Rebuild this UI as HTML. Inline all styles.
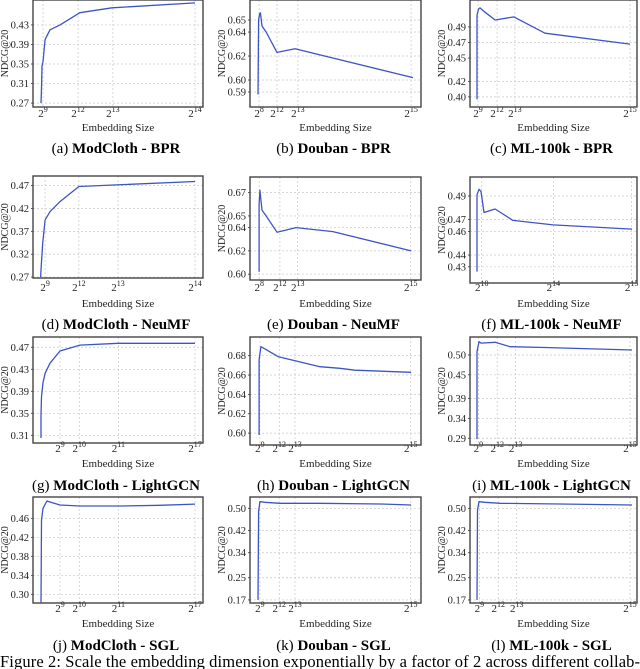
<!DOCTYPE html>
<html><head><meta charset="utf-8">
<style>
html,body{margin:0;padding:0;background:#fff;}
body{width:640px;height:669px;overflow:hidden;position:relative;font-family:"Liberation Serif",serif;}
svg{position:absolute;left:0;top:0;font-family:"Liberation Serif",serif;}
svg text{font-family:"Liberation Serif",serif;}
</style></head>
<body>
<svg id="fig" width="640" height="669" viewBox="0 0 640 669" font-family="Liberation Serif, serif"></svg>
<script>
// ---- data (x as % of axis width, y as NDCG@20) ----
const aX=[4.7,5,5.3,5.9,7.1,10,15.9,27.6,46.5,95.3];
const aY=[0.27,0.30,0.345,0.355,0.40,0.42,0.43,0.455,0.465,0.475];
const bX=[4.7,5,5.6,6.1,7,9.4,15.8,26.3,95.3];
const bY=[0.588,0.65,0.655,0.656,0.645,0.64,0.623,0.626,0.602];
const cX=[4.2,4.2,5.1,6,9,15,26.3,44.9,95.8];
const cY=[0.397,0.505,0.513,0.5145,0.509,0.499,0.503,0.482,0.468];
const dX=[4.5,4.9,5.7,7.1,10,15.9,27,95.3];
const dY=[0.27,0.296,0.344,0.395,0.413,0.435,0.468,0.479];
const eX=[5.3,5.3,5.8,7,9.4,15.8,26.9,48.5,94.2];
const eY=[0.602,0.66,0.672,0.655,0.65,0.636,0.64,0.6365,0.62];
const fX=[4.2,4.2,5.4,6.6,8.4,15,25.7,49.7,97];
const fY=[0.426,0.491,0.4957,0.4937,0.476,0.479,0.4693,0.4655,0.462];
const gX=[4.7,4.7,5,5.9,7.1,10,15.9,27.6,50,95.3];
const gY=[0.305,0.347,0.38,0.4056,0.4227,0.441,0.4633,0.474,0.4773,0.4773];
const hX=[5.3,5.3,6.4,8.8,16.4,40.9,52.6,61.4,94.2];
const hY=[0.598,0.6756,0.6893,0.687,0.679,0.6686,0.667,0.665,0.6628];
const iX=[4.2,4.2,5.4,6.6,15,24,44.9,97];
const iY=[0.288,0.508,0.5335,0.530,0.532,0.521,0.519,0.5126];
const jX=[4.7,5,5.9,8.2,10,15.9,27.6,51.2,74.7,95.3];
const jY=[0.282,0.456,0.481,0.4964,0.4943,0.488,0.486,0.486,0.4874,0.490];
const kX=[4.7,5,5.8,8.8,17.5,40.9,76,94.2];
const kY=[0.17,0.488,0.5237,0.5216,0.518,0.518,0.5155,0.512];
const lX=[4.2,4.5,5.4,9,18,53.9,97];
const lY=[0.17,0.494,0.5237,0.5216,0.518,0.5155,0.512];
// tick values / labels
const aYT=[0.27,0.31,0.35,0.39,0.43], aXT=[5.9,26.5,47,95.3], aXL=["9","12","13","14"];
const bYT=[0.59,0.60,0.62,0.64,0.65], bXT=[5.3,15.8,28,94.2], bXL=["8","12","13","15"];
const cYT=[0.40,0.42,0.45,0.47,0.49], cXT=[4.8,16.2,26.9,95.8], cXL=["9","12","13","15"];
const dYT=[0.27,0.32,0.37,0.42,0.47], dXT=[7.1,27,50,95.3], dXL=["9","12","13","14"];
const eYT=[0.60,0.62,0.64,0.65,0.67], eXT=[5.4,17.5,27.9,94], eXL=["8","12","13","15"];
const fYT=[0.43,0.44,0.46,0.47,0.49], fXT=[7,49.9,96.8], fXL=["10","14","15"];
const gYT=[0.31,0.35,0.39,0.43,0.47], gXT=[15.9,27.2,50.2,95.3], gXL=["9","10","11","17"];
const hYT=[0.60,0.62,0.64,0.66,0.68], hXT=[5.8,17.1,26.3,94], hXL=["9","12","13","15"];
const iYT=[0.29,0.34,0.39,0.45,0.50], iXT=[5,16.3,27.3,95.8], iXL=["9","12","13","15"];
const jYT=[0.30,0.34,0.38,0.42,0.46], jXT=[15.9,27.2,50.2,95.3], jXL=["9","10","11","17"];
const kYT=[0.17,0.25,0.34,0.42,0.50], kXT=[5.8,17.1,26.3,94], kXL=["9","12","13","15"];
const lYT=[0.17,0.25,0.34,0.42,0.50], lXT=[5.6,16.9,28,95.8], lXL=["9","12","13","15"];

const panels=[
 {id:'a',box:[33,0,203,107],yd:[0.262,0.481],xs:aX,ys:aY,yt:aYT,xt:aXT,xl:aXL,ds:'ModCloth',m:'BPR',row:0},
 {id:'b',box:[250,0,421,107],yd:[0.5775,0.6667],xs:bX,ys:bY,yt:bYT,xt:bXT,xl:bXL,ds:'Douban',m:'BPR',row:0},
 {id:'c',box:[470,0,637,107],yd:[0.387,0.5247],xs:cX,ys:cY,yt:cYT,xt:cXT,xl:cXL,ds:'ML-100k',m:'BPR',row:0},
 {id:'d',box:[33,176,203,278],yd:[0.268,0.491],xs:dX,ys:dY,yt:dYT,xt:dXT,xl:dXL,ds:'ModCloth',m:'NeuMF',row:1},
 {id:'e',box:[250,177,421,280],yd:[0.595,0.6834],xs:eX,ys:eY,yt:eYT,xt:eXT,xl:eXL,ds:'Douban',m:'NeuMF',row:1},
 {id:'f',box:[470,177,637,283],yd:[0.4163,0.5061],xs:fX,ys:fY,yt:fYT,xt:fXT,xl:fXL,ds:'ML-100k',m:'NeuMF',row:1},
 {id:'g',box:[33,337,203,443],yd:[0.296,0.4887],xs:gX,ys:gY,yt:gYT,xt:gXT,xl:gXL,ds:'ModCloth',m:'LightGCN',row:2},
 {id:'h',box:[250,337,421,445],yd:[0.5877,0.6993],xs:hX,ys:hY,yt:hYT,xt:hXT,xl:hXL,ds:'Douban',m:'LightGCN',row:2},
 {id:'i',box:[470,337,637,445],yd:[0.273,0.5454],xs:iX,ys:iY,yt:iYT,xt:iXT,xl:iXL,ds:'ML-100k',m:'LightGCN',row:2},
 {id:'j',box:[33,497,203,603],yd:[0.2817,0.5049],xs:jX,ys:jY,yt:jYT,xt:jXT,xl:jXL,ds:'ModCloth',m:'SGL',row:3},
 {id:'k',box:[250,497,421,603],yd:[0.159,0.5407],xs:kX,ys:kY,yt:kYT,xt:kXT,xl:kXL,ds:'Douban',m:'SGL',row:3},
 {id:'l',box:[470,497,637,603],yd:[0.159,0.5407],xs:lX,ys:lY,yt:lYT,xt:lXT,xl:lXL,ds:'ML-100k',m:'SGL',row:3}
];
const tickY=[113,287,448,608], xlabY=[127,303,463,623], capY=[148,324,485,645];

const NS='http://www.w3.org/2000/svg';
const svg=document.getElementById('fig');
const FF='"Liberation Serif", serif';
function mk(tag,attrs,parent){const e=document.createElementNS(NS,tag);for(const k in attrs)e.setAttribute(k,attrs[k]);if(tag==='text')e.style.fontFamily=FF;(parent||svg).appendChild(e);return e;}

panels.forEach(p=>{
  const [x0,y0,x1,y1]=p.box;
  const sx=v=>x0+(x1-x0)*v/100;
  const sy=v=>y1-(y1-y0)*(v-p.yd[0])/(p.yd[1]-p.yd[0]);
  const g=mk('g',{});
  
  
  p.yt.forEach(v=>{
    const l=mk('line',{x1:x0,x2:x1,y1:sy(v),y2:sy(v),stroke:'#c8c8c8','stroke-width':0.7,'stroke-dasharray':'2,2'},g);
    
    
    const t=mk('text',{x:x0-4,y:sy(v)+3.5,'text-anchor':'end','font-size':'10.5',fill:'#222'},g);
    
    
    t.textContent=v.toFixed(2);
    mk('line',{x1:x0-2,x2:x0,y1:sy(v),y2:sy(v),stroke:'#333','stroke-width':0.8},g);
  });
  p.xt.forEach((v,i)=>{
    const l=mk('line',{x1:sx(v),x2:sx(v),y1:y0,y2:y1,stroke:'#c8c8c8','stroke-width':0.7,'stroke-dasharray':'2,2'},g);
    
    
    const t=mk('text',{x:sx(v),y:tickY[p.row]+4,'text-anchor':'middle','font-size':'11',fill:'#222'},g);
    
    
    t.appendChild(document.createTextNode('2'));
    const s=mk('tspan',{dy:-5,'font-size':'8'},t);
    s.textContent=p.xl[i];
  });
  const r=mk('rect',{x:x0,y:y0,width:x1-x0,height:y1-y0,fill:'none',stroke:'#444','stroke-width':1.4},g);
  
  
  const d=p.xs.map((v,i)=>(i?'L':'M')+sx(v).toFixed(1)+','+sy(p.ys[i]).toFixed(1)).join(' ');
  const path=mk('path',{d:d,fill:'none',stroke:'#3d55c4','stroke-width':1.3,'stroke-linejoin':'round'},g);
  
  
  const yl=mk('text',{transform:'translate('+(x0-25)+','+((y0+y1)/2)+') rotate(-90)','text-anchor':'middle','font-size':'10',fill:'#222'},g);
  
  
  yl.textContent='NDCG@20';
  const xl=mk('text',{x:(x0+x1)/2,y:xlabY[p.row]+4,'text-anchor':'middle','font-size':'11',fill:'#222'},g);
  
  
  xl.textContent='Embedding Size';
  const cap=mk('text',{x:(x0+x1)/2-2,y:capY[p.row]+5,'text-anchor':'middle','font-size':'15',fill:'#000'},g);
  
  
  cap.appendChild(document.createTextNode('('+p.id+') '));
  const b=mk('tspan',{'font-weight':'bold'},cap);
  b.textContent=p.ds+' - '+p.m;
});
const fc=mk('text',{x:0,y:667,'font-size':'16.5',fill:'#000',textLength:640,lengthAdjust:'spacing'});


fc.textContent='Figure 2:  Scale the embedding dimension exponentially by a factor of 2 across different collab-';
</script>
</body></html>
